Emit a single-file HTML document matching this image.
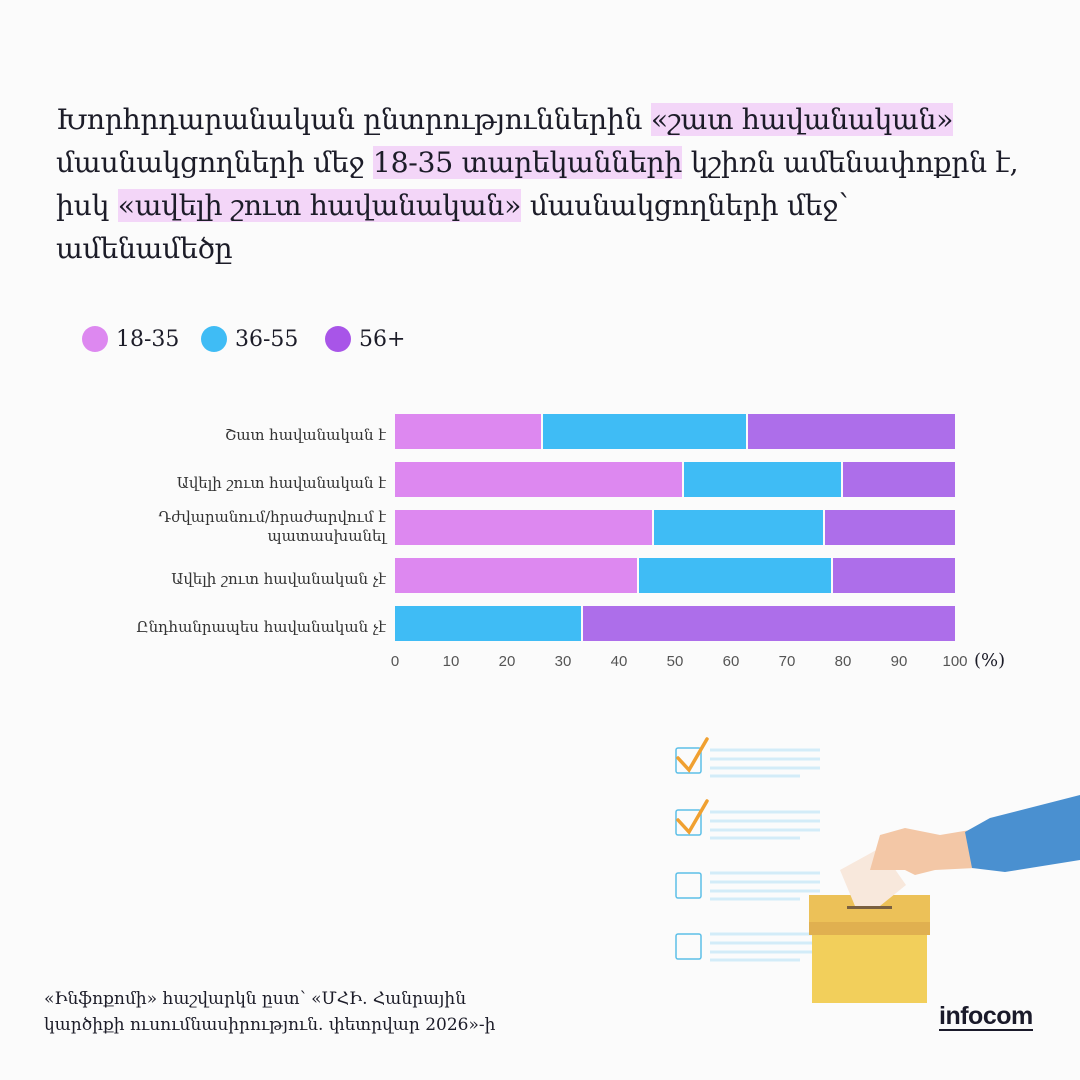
<!DOCTYPE html>
<html><head><meta charset="utf-8"><style>
body{margin:0;width:1080px;height:1080px;background:#fbfbfb;position:relative;overflow:hidden;font-family:"DejaVu Serif","Liberation Serif",serif;color:#1c1c28}
.t{position:absolute;left:56px;top:98px;font-size:28.3px;line-height:43px;white-space:nowrap;letter-spacing:-0.3px}
.h{background:#f3d6f8}
.leg{position:absolute;top:326px;font-size:22px;display:flex;align-items:center}
.leg span.d{width:26px;height:26px;border-radius:50%;display:inline-block;margin-right:8px}
.lab{position:absolute;right:694px;font-size:15px;text-align:right;color:#333;line-height:19px}
.bar{position:absolute;height:35px}
.tk{position:absolute;top:653px;font-family:"Liberation Sans",sans-serif;font-size:15px;color:#555;transform:translateX(-50%)}
.src{position:absolute;left:44px;top:986px;font-size:17px;line-height:26px}
</style></head><body>
<div class="t">Խորհրդարանական ընտրություններին <span class="h">«շատ հավանական»</span><br>մասնակցողների մեջ <span class="h">18-35 տարեկանների</span> կշիռն ամենափոքրն է,<br>իսկ <span class="h">«ավելի շուտ հավանական»</span> մասնակցողների մեջ՝<br>ամենամեծը</div>
<div class="leg" style="left:82px"><span class="d" style="background:#dd88f0"></span>18-35</div>
<div class="leg" style="left:201px"><span class="d" style="background:#3fbcf5"></span>36-55</div>
<div class="leg" style="left:325px"><span class="d" style="background:#a855e8"></span>56+</div>

<div class="lab" style="top:426px">Շատ հավանական է</div>
<div class="lab" style="top:474px">Ավելի շուտ հավանական է</div>
<div class="lab" style="top:508px">Դժվարանում/հրաժարվում է<br>պատասխանել</div>
<div class="lab" style="top:570px">Ավելի շուտ հավանական չէ</div>
<div class="lab" style="top:618px">Ընդհանրապես հավանական չէ</div>

<div class="bar" style="top:414px;left:395px;width:146px;background:#dd88f0"></div>
<div class="bar" style="top:414px;left:543px;width:203px;background:#3fbcf5"></div>
<div class="bar" style="top:414px;left:748px;width:207px;background:#ad6eea"></div>

<div class="bar" style="top:462px;left:395px;width:287px;background:#dd88f0"></div>
<div class="bar" style="top:462px;left:684px;width:157px;background:#3fbcf5"></div>
<div class="bar" style="top:462px;left:843px;width:112px;background:#ad6eea"></div>

<div class="bar" style="top:510px;left:395px;width:257px;background:#dd88f0"></div>
<div class="bar" style="top:510px;left:654px;width:169px;background:#3fbcf5"></div>
<div class="bar" style="top:510px;left:825px;width:130px;background:#ad6eea"></div>

<div class="bar" style="top:558px;left:395px;width:242px;background:#dd88f0"></div>
<div class="bar" style="top:558px;left:639px;width:192px;background:#3fbcf5"></div>
<div class="bar" style="top:558px;left:833px;width:122px;background:#ad6eea"></div>

<div class="bar" style="top:606px;left:395px;width:186px;background:#3fbcf5"></div>
<div class="bar" style="top:606px;left:583px;width:372px;background:#ad6eea"></div>

<div class="tk" style="left:395px">0</div><div class="tk" style="left:451px">10</div><div class="tk" style="left:507px">20</div><div class="tk" style="left:563px">30</div><div class="tk" style="left:619px">40</div><div class="tk" style="left:675px">50</div><div class="tk" style="left:731px">60</div><div class="tk" style="left:787px">70</div><div class="tk" style="left:843px">80</div><div class="tk" style="left:899px">90</div><div class="tk" style="left:955px">100</div>
<div style="position:absolute;left:974px;top:650px;font-size:18px">(%)</div>

<svg style="position:absolute;left:0;top:0" width="1080" height="1080">
<g fill="none" stroke="#5cbfe8" stroke-width="1.5">
<rect x="676" y="748" width="25" height="25" rx="2"/><rect x="676" y="810" width="25" height="25" rx="2"/>
<rect x="676" y="873" width="25" height="25" rx="2"/><rect x="676" y="934" width="25" height="25" rx="2"/></g>
<g stroke="#d3ecf8" stroke-width="3">
<line x1="710" y1="750" x2="820" y2="750"/><line x1="710" y1="759" x2="820" y2="759"/><line x1="710" y1="768" x2="820" y2="768"/><line x1="710" y1="776" x2="800" y2="776"/>
<line x1="710" y1="812" x2="820" y2="812"/><line x1="710" y1="821" x2="820" y2="821"/><line x1="710" y1="830" x2="820" y2="830"/><line x1="710" y1="838" x2="800" y2="838"/>
<line x1="710" y1="873" x2="820" y2="873"/><line x1="710" y1="882" x2="820" y2="882"/><line x1="710" y1="891" x2="820" y2="891"/><line x1="710" y1="899" x2="800" y2="899"/>
<line x1="710" y1="934" x2="820" y2="934"/><line x1="710" y1="943" x2="820" y2="943"/><line x1="710" y1="952" x2="820" y2="952"/><line x1="710" y1="960" x2="800" y2="960"/></g>
<g fill="none" stroke="#f0a030" stroke-width="3.5" stroke-linecap="round"><path d="M678 758 L689 770 L707 739"/><path d="M678 820 L689 832 L707 801"/></g>
<rect x="812" y="935" width="115" height="68" fill="#f2cf5b"/>
<rect x="809" y="895" width="121" height="40" fill="#ecc158"/>
<rect x="809" y="922" width="121" height="13" fill="#e0b050"/>
<rect x="847" y="906" width="45" height="3" fill="#7a6040"/>
<path d="M840 870 L880 848 L906 885 L880 906 L855 906 Z" fill="#f8e8dc"/>
<path d="M870 870 L880 835 L905 828 L940 835 L970 830 L975 868 L935 870 L915 875 L905 870 Z" fill="#f3c7a6"/>
<path d="M965 832 L990 818 L1080 795 L1080 860 L1005 872 L972 868 Z" fill="#4a90d0"/>
</svg>
<div style="position:absolute;left:939px;top:1003px;font-family:'Liberation Sans',sans-serif;font-size:25px;font-weight:bold;color:#1a1a2a;border-bottom:2px solid #1a1a2a;line-height:26px;letter-spacing:-0.5px">infocom</div>
<div class="src">«Ինֆոքոմի» հաշվարկն ըստ՝ «ՄՀԻ. Հանրային<br>կարծիքի ուսումնասիրություն. փետրվար 2026»-ի</div>
</body></html>
